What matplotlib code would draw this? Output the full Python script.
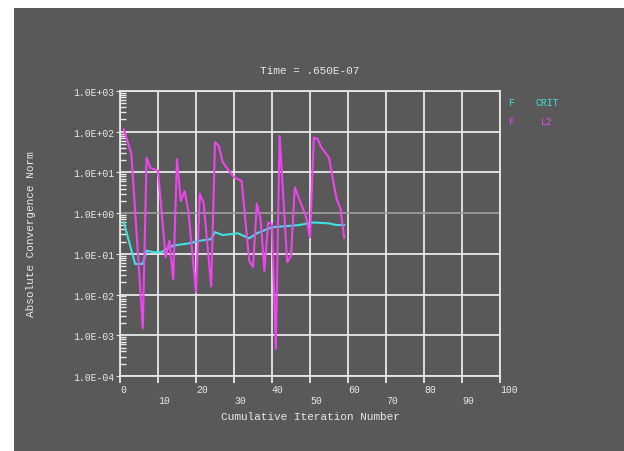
import numpy as np
import matplotlib
matplotlib.use('Agg')
import matplotlib.pyplot as plt
from matplotlib.ticker import LogLocator, NullFormatter

### convergence history
iter_l2 = [1, 3, 6, 7, 8, 10, 12, 13, 14, 15, 16, 17, 18, 20, 21, 22, 24, 25, 26, 27,
           29, 30, 32, 34, 35, 36, 37, 38, 39, 40, 41, 42, 44, 45, 46, 48, 49, 50, 51,
           52, 53, 55, 57, 58, 59]
norm_l2 = [1.15E+02, 2.8E+01, 1.5E-03, 2.3E+01, 1.3E+01, 1.1E+01, 8.3E-02, 2.1E-01,
           2.4E-02, 2.1E+01, 2.0E+00, 3.5E+00, 1.1E+00, 1.15E-02, 3.0E+00, 1.8E+00,
           1.6E-02, 5.5E+01, 4.5E+01, 1.8E+01, 1.0E+01, 7.6E+00, 6.2E+00, 6.8E-02,
           4.7E-02, 1.7E+00, 7.1E-01, 3.8E-02, 5.9E-01, 5.4E-01, 4.6E-04, 7.9E+01,
           6.2E-02, 8.9E-02, 4.3E+00, 1.4E+00, 7.9E-01, 2.5E-01, 7.2E+01, 6.6E+01,
           4.1E+01, 2.3E+01, 2.2E+00, 1.3E+00, 2.5E-01]
iter_crit = [1, 4, 6, 7, 9, 11, 12, 14, 18, 21, 24, 25, 27, 31, 34, 36, 40, 45, 47,
             51, 55, 57, 59]
norm_crit = [5.9E-01, 5.6E-02, 5.7E-02, 1.2E-01, 1.1E-01, 1.1E-01, 1.3E-01, 1.6E-01,
             1.8E-01, 2.1E-01, 2.3E-01, 3.4E-01, 2.9E-01, 3.2E-01, 2.4E-01, 3.2E-01,
             4.5E-01, 4.9E-01, 5.1E-01, 5.9E-01, 5.6E-01, 5.1E-01, 5.1E-01]

ytick_vals = [1e-4, 1e-3, 1e-2, 1e-1, 1e0, 1e1, 1e2, 1e3]
ytick_labels = ['1.0E-04', '1.0E-03', '1.0E-02', '1.0E-01',
                '1.0E+00', '1.0E+01', '1.0E+02', '1.0E+03']
xtick_vals = list(range(0, 101, 10))

bg = '#595959'
fg = '#e8e8e8'
mono = 'Liberation Mono'

fig = plt.figure(figsize=(6.24, 4.52), dpi=100)
fig.patch.set_facecolor('white')
fig.patches.append(plt.Rectangle((14 / 624, 0), 1, 1 - 9 / 452, transform=fig.transFigure,
                                 facecolor=bg, edgecolor='none', zorder=-10))

ax = fig.add_axes([120 / 624, 1 - 377 / 452, 380 / 624, 285 / 452])
ax.set_facecolor(bg)
ax.set_yscale('log')
ax.set_xlim(0, 100)
ax.set_ylim(1e-4, 1e3)

### grid
for x in xtick_vals:
    ax.axvline(x, color=fg, lw=1.3, zorder=1)
for y in ytick_vals:
    ax.axhline(y, color='#9a9a9a' if y == 1 else fg, lw=1.3, zorder=1)

ax.plot(iter_crit, norm_crit, color='#40e0e0', lw=1.5, zorder=3)
ax.plot(iter_l2, norm_l2, color='#ee44ee', lw=1.5, zorder=4)

for s in ax.spines.values():
    s.set_color(fg)
    s.set_linewidth(1.3)

ax.set_yticks(ytick_vals)
ax.set_yticklabels(ytick_labels, family=mono, fontsize=7, color=fg)
ax.yaxis.set_minor_locator(LogLocator(base=10, subs=np.arange(2, 10), numticks=20))
ax.yaxis.set_minor_formatter(NullFormatter())
ax.tick_params(axis='y', which='major', direction='out', length=3, color=fg, pad=1)
ax.tick_params(axis='y', which='minor', direction='in', length=4, color=fg, width=1)

ax.set_xticks(xtick_vals)
ax.set_xticklabels([])
ax.tick_params(axis='x', which='major', direction='out', length=5, color=fg, width=1.3)
for x in xtick_vals:
    row = 0 if x % 20 == 0 else 1
    ax.annotate(str(x), xy=(x, 0), xycoords=('data', 'axes fraction'),
                xytext=(0, -13 - row * 11.5), textcoords='offset pixels',
                ha='left', va='center', family=mono, fontsize=7, color=fg)

ax.set_xlabel('Cumulative Iteration Number', family=mono, fontsize=8, color=fg, labelpad=17)
ax.set_ylabel('Absolute Convergence Norm', family=mono, fontsize=8, color=fg, labelpad=8)
ax.yaxis.set_label_coords(-0.22, 0.5)
ax.set_title('Time = .650E-07', family=mono, fontsize=8, color=fg, pad=13)

### legend text
fig.text(508 / 624, 1 - 103 / 452, 'F', family=mono, fontsize=7, color='#40e0e0', va='center')
fig.text(535 / 624, 1 - 103 / 452, 'CRIT', family=mono, fontsize=7, color='#40e0e0', va='center')
fig.text(508 / 624, 1 - 122 / 452, 'F', family=mono, fontsize=7, color='#ee44ee', va='center')
fig.text(541 / 624, 1 - 122 / 452, 'L2', family=mono, fontsize=7, color='#ee44ee', va='center')

plt.savefig('out.png', dpi=100, facecolor=fig.get_facecolor())
